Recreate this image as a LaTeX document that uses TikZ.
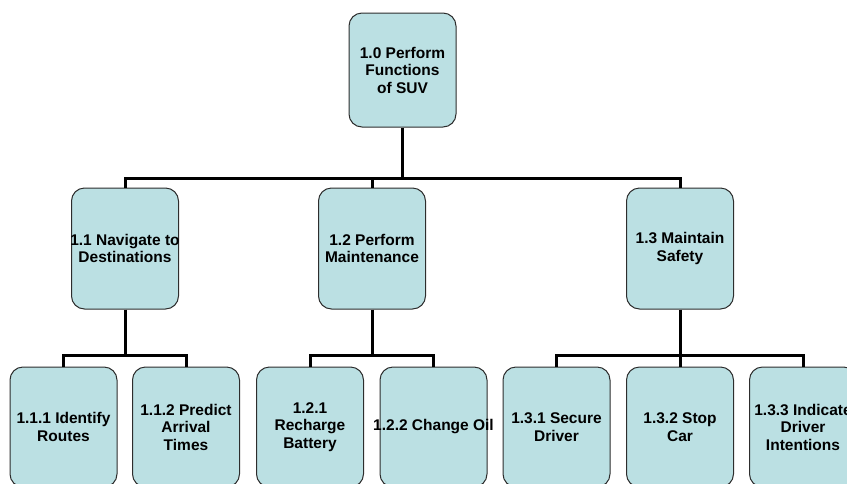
\documentclass[tikz,border=0pt]{standalone}
\usepackage{fontspec}
\setmainfont{Liberation Sans}
\definecolor{boxfill}{RGB}{187,224,227}
\definecolor{boxline}{RGB}{45,45,45}
\begin{document}
\begin{tikzpicture}[x=1pt,y=-1pt,
  fnbox/.style={draw=boxline, line width=1pt, fill=boxfill, rounded corners=13pt,
    minimum width=107pt, minimum height=#1, inner sep=0pt},
  fnbox/.default=120pt,
  fntext/.style={inner sep=0pt, align=center,
    font=\fontsize{15.5}{17.5}\selectfont\bfseries},
  conn/.style={line width=3pt, line join=miter}]
\useasboundingbox (0,0) rectangle (847,483);
\clip (0,0) rectangle (847,483);

% top level
\node[fnbox=114pt] (n10) at (402.5,70) {};
\node[fntext] (t10) at (n10.center) {1.0 Perform\\Functions\\of SUV};

% second level
\node[fnbox=121pt] (n11) at (125,248.5) {};
\node[fnbox=121pt] (n12) at (372,248.5) {};
\node[fnbox=121pt] (n13) at (680,248.5) {};
\node[fntext] (t11) at (n11.center) {1.1 Navigate to\\Destinations};
\node[fntext] (t12) at (n12.center) {1.2 Perform\\Maintenance};
\node[fntext] (t13) at (n13.center) {1.3 Maintain\\Safety};

% third level
\node[fnbox] (n111) at (63.5,427) {};
\node[fnbox] (n112) at (186,427) {};
\node[fnbox] (n121) at (310,427) {};
\node[fnbox] (n122) at (433.5,427) {};
\node[fnbox] (n131) at (556.5,427) {};
\node[fnbox] (n132) at (680,427) {};
\node[fnbox] (n133) at (803,427) {};
\node[fntext] (t111) at (n111.center) {1.1.1 Identify\\Routes};
\node[fntext] (t112) at (n112.center) {1.1.2 Predict\\Arrival\\Times};
\node[fntext] (t121) at (n121.center) {1.2.1\\Recharge\\Battery};
\node[fntext] (t122) at (n122.center) {1.2.2 Change Oil};
\node[fntext] (t131) at (n131.center) {1.3.1 Secure\\Driver};
\node[fntext] (t132) at (n132.center) {1.3.2 Stop\\Car};
\node[fntext] (t133) at (n133.center) {1.3.3 Indicate\\Driver\\Intentions};

% bus heights
\coordinate (bus1) at (0,178);
\coordinate (bus2) at (0,355);

% connectors, top to second level
\draw[conn] (n10.south) -- (n10.south |- bus1);
\draw[conn] (n11.north) -- (n11.north |- bus1) -- (n13.north |- bus1) -- (n13.north);
\draw[conn] (n12.north) -- (n12.north |- bus1);

% connectors, second to third level
\draw[conn] (n11.south) -- (n11.south |- bus2);
\draw[conn] (n111.north) -- (n111.north |- bus2) -- (n112.north |- bus2) -- (n112.north);
\draw[conn] (n12.south) -- (n12.south |- bus2);
\draw[conn] (n121.north) -- (n121.north |- bus2) -- (n122.north |- bus2) -- (n122.north);
\draw[conn] (n13.south) -- (n13.south |- bus2);
\draw[conn] (n131.north) -- (n131.north |- bus2) -- (n133.north |- bus2) -- (n133.north);
\draw[conn] (n132.north) -- (n132.north |- bus2);
\end{tikzpicture}
\end{document}
